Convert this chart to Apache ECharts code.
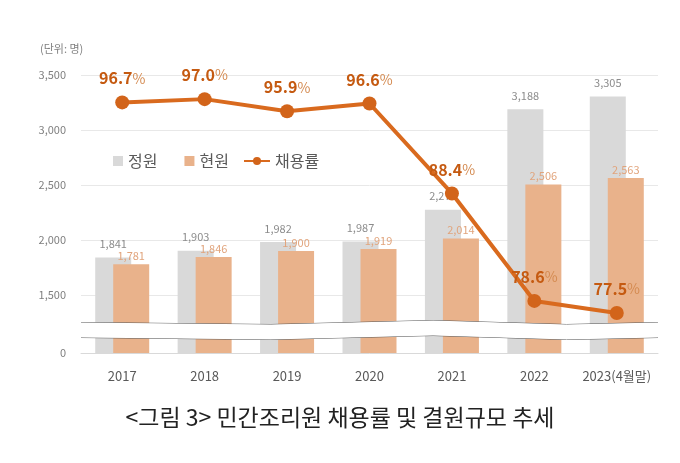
<!DOCTYPE html>
<html><head><meta charset="utf-8">
<script src="https://cdn.jsdelivr.net/npm/echarts@6/dist/echarts.min.js"></script>
<style>html,body{margin:0;padding:0;background:#fff}#c{width:680px;height:463px}</style>
</head><body><div id="c"></div>
<script>
const categories = ['2017','2018','2019','2020','2021','2022','2023(4월말)'];
const quota = [1841,1903,1982,1987,2276,3188,3305];      // 정원
const current = [1781,1846,1900,1919,2014,2506,2563];    // 현원
const rate = [96.7,97.0,95.9,96.6,88.4,78.6,77.5];       // 채용률
const yTicks = [0,1500,2000,2500,3000,3500];

const FONT = '"Noto Sans CJK KR", "Noto Sans", sans-serif';
const chart = echarts.init(document.getElementById('c'));
const fmt = v => v.toLocaleString('en-US');
chart.setOption({
  animation:false,
  textStyle:{fontFamily:FONT},
  title:{text:'<그림 3> 민간조리원 채용률 및 결원규모 추세', left:'center', top:401,
    textStyle:{fontSize:23, fontWeight:'normal', color:'#222', fontFamily:FONT}},
  graphic:[{type:'text', left:40, top:43, style:{text:'(단위: 명)', fontSize:11, fill:'#808080', fontFamily:FONT}}],
  legend:[
    {data:[{name:'정원',icon:'rect'},{name:'현원',icon:'rect'}], left:113, top:153, padding:0, itemWidth:10, itemHeight:10, itemGap:27,
      textStyle:{fontSize:16,color:'#595959'}},
    {data:['채용률'], left:243, top:153, padding:0, itemWidth:26, itemHeight:10,
      textStyle:{fontSize:16,color:'#595959'}}
  ],
  grid:{left:81, right:22, top:75, bottom:110, containLabel:false},
  xAxis:{type:'category', data:categories,
    axisLine:{lineStyle:{color:'#d9d9d9'}}, axisTick:{show:false},
    axisLabel:{fontSize:13, color:'#595959', margin:17, interval:0}},
  yAxis:[{type:'value', min:0, max:3500, interval:500,
    breaks:[{start:145, end:1255, gap:136}],
    breakArea:{show:true, itemStyle:{color:'#fff', borderColor:'#555', borderWidth:1, borderType:'solid', opacity:1}, zigzagAmplitude:2, zigzagMinSpan:120, zigzagMaxSpan:200, zigzagZ:100, expandOnClick:false},
    breakLabelLayout:{moveOverlap:false},
    axisLine:{show:false}, axisTick:{show:false, customValues:yTicks},
    splitLine:{lineStyle:{color:'#e8e8e8'}},
    axisLabel:{fontSize:11, color:'#7f7f7f', margin:15, customValues:yTicks, hideOverlap:false,
      formatter:v => yTicks.includes(v) ? fmt(v) : ''}},
   {type:'value', min:73.85, max:99.2, show:false, splitLine:{show:false}, alignTicks:false}],
  series:[
    {name:'정원', type:'bar', data:quota, barWidth:36, barGap:'-50%',
      itemStyle:{color:'#d9d9d9'},
      label:{show:true, position:'top', distance:8, fontSize:11, color:'#8c8c8c', formatter:p=>fmt(p.value)}},
    {name:'현원', type:'bar', data:current, barWidth:36,
      itemStyle:{color:'#e9b28b'},
      label:{show:true, position:'top', distance:3, fontSize:11, color:'#e1a47c', formatter:p=>fmt(p.value)}},
    {name:'채용률', type:'line', yAxisIndex:1, data:rate, symbol:'circle', symbolSize:14,
      lineStyle:{width:4, color:'#d96a1e'}, itemStyle:{color:'#d2641a'}, z:10,
      label:{show:true, position:'top', distance:9,
        formatter:p=>'{a|'+p.value.toFixed(1)+'}{b|%}',
        rich:{a:{fontSize:16, fontWeight:'bold', color:'#c55a11'}, b:{fontSize:14, color:'#d48a50'}}}}
  ]
});
</script></body></html>
